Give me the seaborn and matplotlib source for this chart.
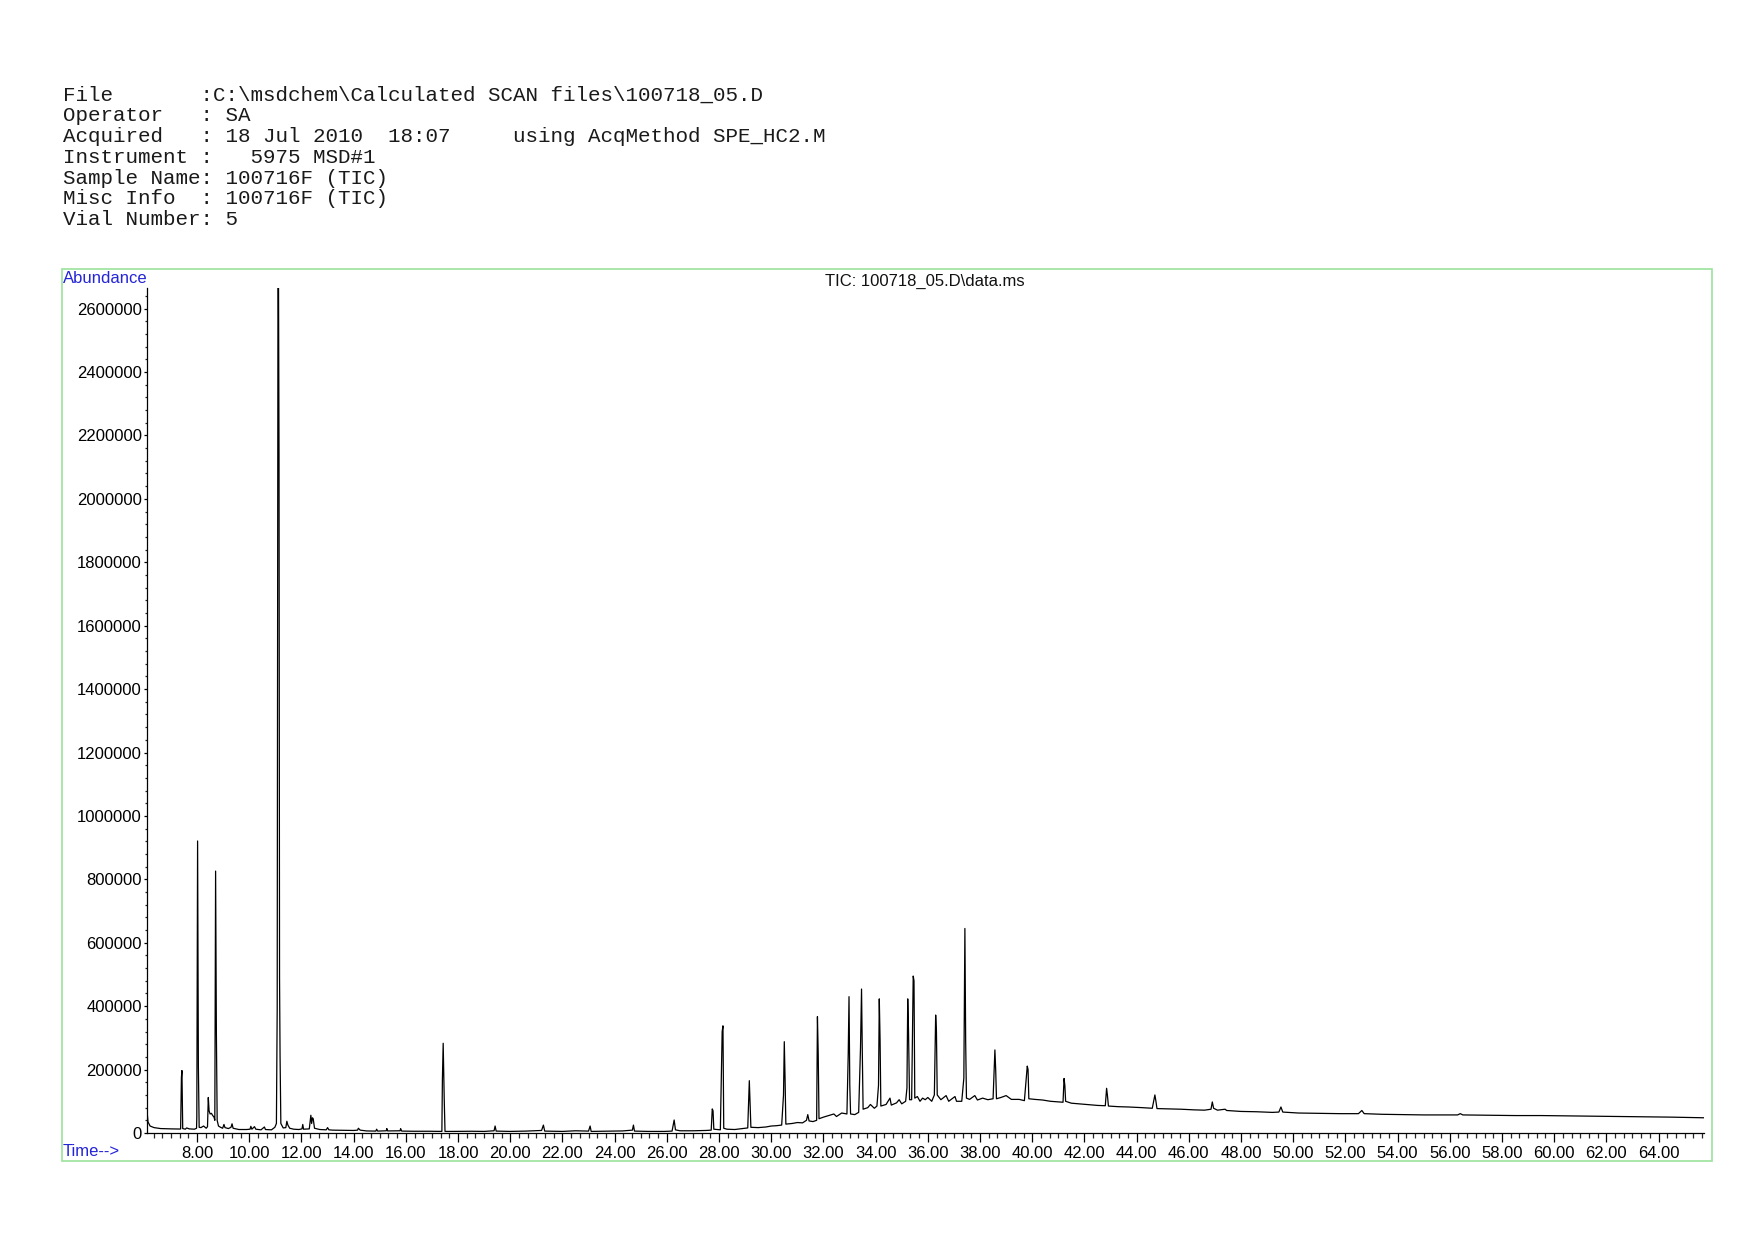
import numpy as np
import pandas as pd
import matplotlib
matplotlib.use("Agg")
import matplotlib.pyplot as plt
import seaborn as sns
from matplotlib.ticker import MultipleLocator, FormatStrFormatter, FuncFormatter
from matplotlib.patches import Rectangle

# Header block (instrument report)
header_lines = [
    "File       :C:\\msdchem\\Calculated SCAN files\\100718_05.D",
    "Operator   : SA",
    "Acquired   : 18 Jul 2010  18:07     using AcqMethod SPE_HC2.M",
    "Instrument :   5975 MSD#1",
    "Sample Name: 100716F (TIC)",
    "Misc Info  : 100716F (TIC)",
    "Vial Number: 5",
]
chart_title = "TIC: 100718_05.D\\data.ms"

# TIC trace (retention time in min, abundance)
# early part: solvent / light compounds
early_time = [6.07, 6.09, 6.12, 6.2, 6.35, 6.6, 7.0, 7.35, 7.37, 7.40, 7.42, 7.45,
              7.55, 7.6, 7.7, 7.9, 7.98, 7.99, 8.02, 8.05, 8.08, 8.15, 8.25, 8.35,
              8.40, 8.43, 8.46, 8.50, 8.55, 8.60, 8.65, 8.68, 8.71, 8.74, 8.77, 8.82,
              8.9, 8.98, 9.03, 9.07, 9.2, 9.3, 9.34, 9.38, 9.6, 9.9, 10.03, 10.06,
              10.1, 10.2, 10.25, 10.45, 10.58, 10.62, 10.85, 10.98, 11.04, 11.07, 11.10,
              11.12, 11.14, 11.16, 11.18, 11.21, 11.3, 11.4, 11.44, 11.48, 11.55, 11.7,
              11.9, 12.02, 12.05, 12.08, 12.3, 12.36, 12.39, 12.42, 12.45, 12.5, 12.7,
              12.95, 13.0, 13.05, 13.2]
early_abund = [30000, 62000, 35000, 22000, 17000, 14000, 13000, 12500, 13000, 175000, 197000, 14000,
               12000, 16000, 13000, 12000, 15000, 50000, 921000, 210000, 18000, 17000, 22000, 15000,
               20000, 112000, 70000, 60000, 62000, 55000, 50000, 40000, 826000, 316000, 40000, 22000,
               18000, 15000, 27000, 17000, 14000, 18000, 29000, 15000, 11000, 11000, 12000, 21000,
               12000, 20000, 12000, 10000, 19000, 11000, 10000, 18000, 30000, 390000, 2700000,
               2700000, 2140000, 490000, 242000, 30000, 16000, 17000, 37000, 25000, 15000, 12000,
               11000, 13000, 27000, 12000, 13000, 56000, 30000, 48000, 45000, 15000, 11000,
               10000, 17000, 10000, 9000]

# flat middle part
mid_time = [13.5, 14.0, 14.15, 14.18, 14.25, 14.5, 14.85, 14.88, 14.92, 15.25, 15.27, 15.3,
            15.78, 15.8, 15.84, 16.3, 16.9, 17.38, 17.40, 17.43, 17.47, 17.50, 17.8, 18.5,
            19.0, 19.38, 19.42, 19.46, 20.0, 20.6, 21.2, 21.27, 21.32, 22.0, 22.5, 23.0,
            23.06, 23.1, 23.8, 24.3, 24.68, 24.72, 24.76, 25.3, 25.9, 26.2, 26.28, 26.33,
            26.5, 27.0, 27.5, 27.7]
mid_abund = [8500, 8000, 9000, 15000, 9000, 6500, 6000, 12000, 6000, 7000, 14000, 6500,
             7000, 14000, 6000, 5500, 5500, 5000, 167000, 283000, 107000, 5000, 5000, 5500,
             5000, 7000, 22000, 6000, 5000, 6000, 8000, 25000, 6000, 5000, 7000, 6000,
             22000, 5000, 6000, 6500, 9000, 25000, 6000, 5000, 5000, 6000, 41000, 10000,
             7000, 7000, 8000, 9000]

# hump with the homologous series
hump_time = [27.74, 27.77, 27.8, 28.05, 28.12, 28.15, 28.18, 28.3, 28.6, 28.9, 29.1, 29.16,
             29.19, 29.22, 29.5, 29.8, 30.0, 30.2, 30.4, 30.47, 30.50, 30.53, 30.56, 30.8,
             31.0, 31.2, 31.35, 31.4, 31.45, 31.6, 31.74, 31.77, 31.80, 31.83, 32.0, 32.2,
             32.4, 32.5, 32.7, 32.9, 32.95, 32.98, 33.01, 33.04, 33.2, 33.35, 33.42, 33.46,
             33.49, 33.52, 33.7, 33.8, 33.95, 34.05, 34.11, 34.14, 34.17, 34.2, 34.4, 34.55,
             34.6, 34.8, 34.9, 35.0, 35.15, 35.2, 35.23, 35.26, 35.3, 35.38, 35.44, 35.47,
             35.5, 35.6, 35.7, 35.8, 35.9, 36.0, 36.15, 36.25, 36.30, 36.33, 36.36, 36.5,
             36.7, 36.8, 37.04, 37.1, 37.3, 37.38, 37.42, 37.45, 37.48, 37.6, 37.8, 37.9,
             38.1, 38.3, 38.5, 38.57, 38.6, 38.63, 38.8, 39.0, 39.2, 39.5, 39.7, 39.81,
             39.84, 39.87, 40.1, 40.4, 40.7, 41.0, 41.18, 41.22, 41.25, 41.28, 41.5, 41.8,
             42.1, 42.5, 42.8, 42.85, 42.88, 42.92, 43.3, 43.7, 44.2, 44.6, 44.7, 44.74, 44.78]
hump_abund = [76000, 70000, 12000, 10000, 320000, 338000, 15000, 12000, 11000, 14000, 16000, 165000,
              90000, 18000, 17000, 19000, 22000, 23000, 25000, 120000, 288000, 170000, 28000, 30000,
              33000, 32000, 40000, 58000, 38000, 36000, 40000, 367000, 250000, 45000, 50000, 55000,
              60000, 52000, 63000, 60000, 250000, 430000, 150000, 60000, 58000, 65000, 268000, 454000,
              250000, 75000, 80000, 90000, 78000, 85000, 150000, 423000, 294000, 85000, 90000, 110000,
              88000, 95000, 105000, 92000, 100000, 142000, 423000, 322000, 105000, 105000, 495000, 480000,
              110000, 115000, 100000, 110000, 105000, 112000, 100000, 120000, 372000, 320000, 120000, 105000,
              118000, 100000, 115000, 100000, 100000, 173000, 645000, 288000, 110000, 106000, 118000, 104000,
              110000, 105000, 108000, 262000, 200000, 108000, 112000, 118000, 106000, 106000, 102000, 211000,
              200000, 108000, 106000, 104000, 100000, 98000, 97000, 172000, 150000, 100000, 94000, 92000,
              90000, 87000, 86000, 141000, 120000, 85000, 83000, 82000, 80000, 78000, 120000, 100000, 77000]

# slowly falling tail
tail_time = [45.2, 45.7, 46.2, 46.6, 46.85, 46.9, 46.95, 47.1, 47.39, 47.45, 48.0, 48.6,
             49.2, 49.45, 49.53, 49.6, 50.2, 51.0, 51.8, 52.5, 52.63, 52.72, 53.4, 54.2,
             55.0, 55.8, 56.3, 56.4, 56.5, 57.5, 58.5, 59.5, 60.5, 61.5, 62.5, 63.5, 64.5, 65.74]
tail_abund = [76000, 75000, 73000, 72000, 75000, 98000, 78000, 72000, 75000, 71000, 68000, 67000,
              65000, 66000, 82000, 66000, 63000, 62000, 61000, 61000, 71000, 61000, 59000, 58000,
              57000, 57000, 57000, 61000, 57000, 56000, 55000, 55000, 54000, 53000, 52000, 51000, 50000, 48000]

trace = pd.DataFrame({
    "time": early_time + mid_time + hump_time + tail_time,
    "abundance": early_abund + mid_abund + hump_abund + tail_abund,
})

sns.set_style("ticks")
plt.rcParams["font.family"] = ["Liberation Sans", "DejaVu Sans"]

W, H = 1754, 1240
fig = plt.figure(figsize=(W / 150, H / 150), dpi=150)

# green frame around the chromatogram
fig.patches.append(Rectangle((62 / W, 1 - 1161 / H), (1712 - 62) / W, (1161 - 269) / H,
                             transform=fig.transFigure, fill=False,
                             edgecolor="#9be39b", linewidth=0.8))

ax = fig.add_axes([146.7 / W, 1 - 1133 / H, (1704 - 146.7) / W, (1133 - 288) / H])
sns.lineplot(data=trace, x="time", y="abundance", ax=ax, estimator=None, sort=False,
             color="black", linewidth=0.6)

ax.set_xlim(6.07, 65.74)
ax.set_ylim(0, 2665000)
ax.set_xlabel("")
ax.set_ylabel("")
ax.set_facecolor("white")
for side in ["top", "right"]:
    ax.spines[side].set_visible(False)
for side in ["left", "bottom"]:
    ax.spines[side].set_linewidth(0.6)
    ax.spines[side].set_color("black")

ax.xaxis.set_major_locator(MultipleLocator(2))
ax.xaxis.set_minor_locator(MultipleLocator(1 / 3))
ax.xaxis.set_major_formatter(FormatStrFormatter("%.2f"))
ax.yaxis.set_major_locator(MultipleLocator(200000))
ax.yaxis.set_minor_locator(MultipleLocator(40000))
ax.yaxis.set_major_formatter(FuncFormatter(lambda v, _: f"{int(round(v))}"))

ax.tick_params(axis="x", which="major", direction="out", length=4.3, width=0.6,
               labelsize=8, pad=2, colors="black")
ax.tick_params(axis="x", which="minor", direction="out", length=2.2, width=0.6)
ax.tick_params(axis="y", which="major", direction="out", length=1.6, width=0.6,
               labelsize=8, pad=0.8, colors="black")
ax.tick_params(axis="y", which="minor", direction="out", length=0.9, width=0.6)

fig.text(925 / W, 1 - 281 / H, chart_title, ha="center", va="center", fontsize=8, color="#111111")
fig.text(63 / W, 1 - 278.5 / H, "Abundance", ha="left", va="center", fontsize=8, color="#2424d8")
fig.text(63 / W, 1 - 1151 / H, "Time-->", ha="left", va="center", fontsize=8, color="#2424d8")

for i, line in enumerate(header_lines):
    fig.text(62.6 / W, 1 - (95 + 20.8 * i) / H, line, ha="left", va="center",
             fontsize=10, family=["Liberation Mono", "DejaVu Sans Mono"], color="#1a1a1a")

fig.savefig("out.png", dpi=150, facecolor="white")
